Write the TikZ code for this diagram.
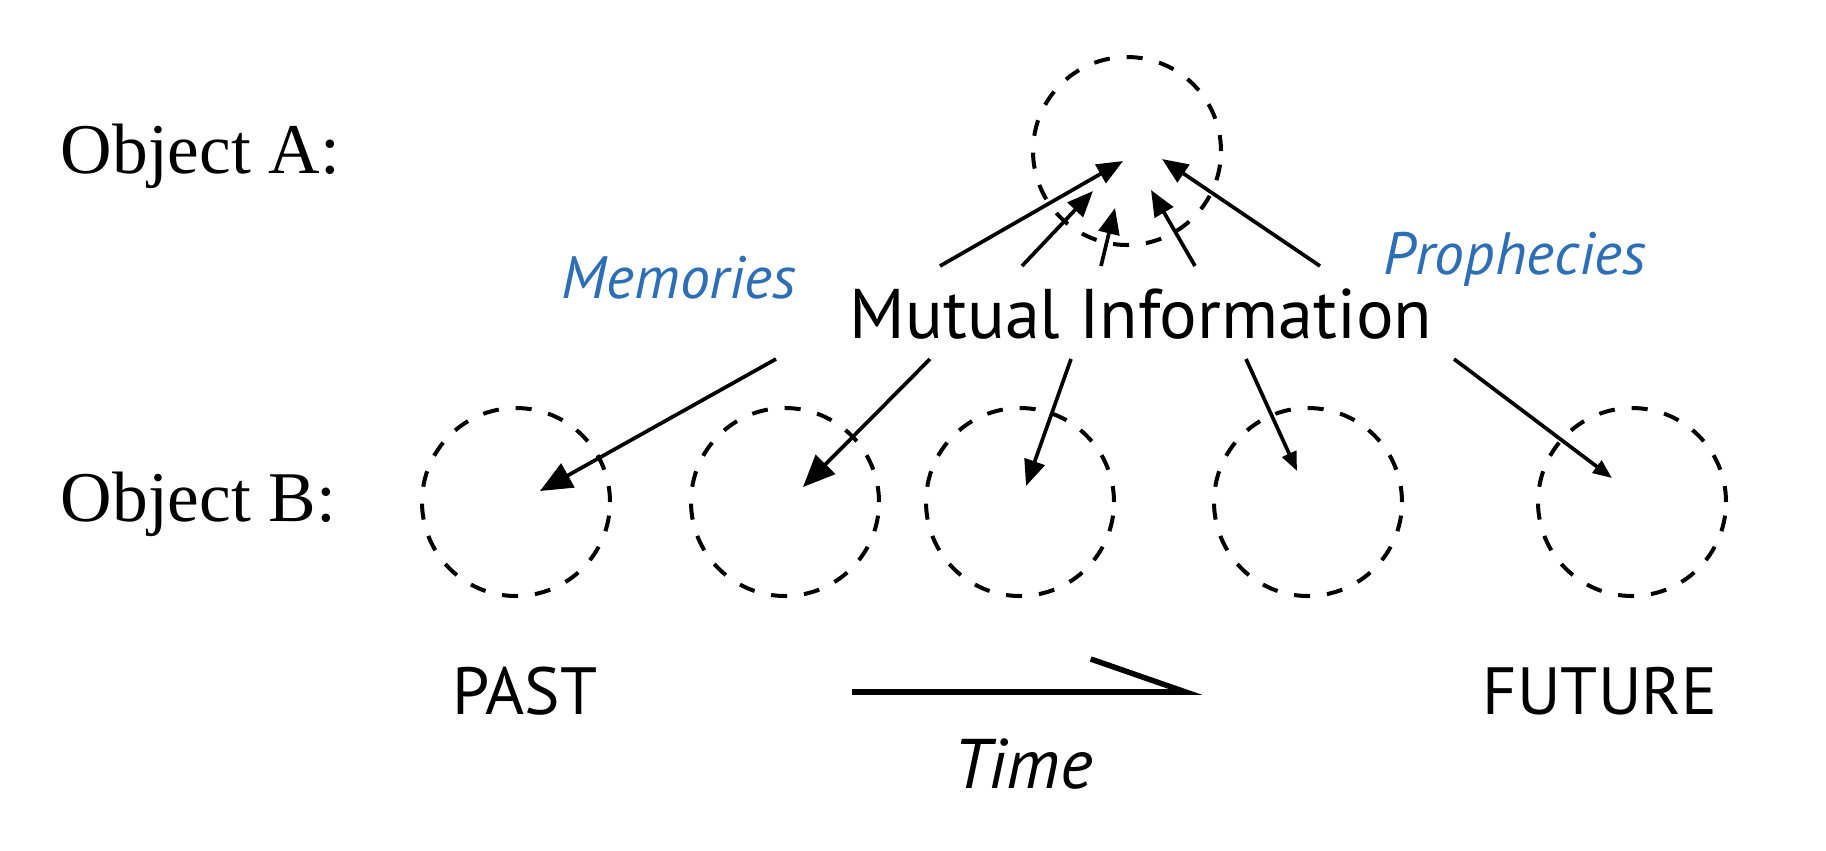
\documentclass[tikz,border=0pt]{standalone}
\usepackage{fontspec}
\setmainfont{Liberation Serif}
\setsansfont{PT Sans}
\usepackage{xcolor}
\definecolor{colorLabel}{RGB}{46,110,180}
\usepackage{tikz}
\usetikzlibrary{arrows.meta}
\tikzset{
  object/.style={circle, draw, dash pattern=on 1.6mm off 1.7mm, line width=0.4mm, minimum size=18.8mm, inner sep=0pt},
  objtext/.style={inner sep=0pt, font=\fontsize{20.3}{24}\selectfont},
  infotext/.style={inner sep=0pt, font=\sffamily\fontsize{20}{24}\selectfont},
  kindtext/.style={inner sep=0pt, text=colorLabel, font=\sffamily\itshape\fontsize{17}{20}\selectfont},
  epochtext/.style={inner sep=0pt, font=\sffamily\fontsize{19}{23}\selectfont},
  bighead/.style={-{Triangle[length=3.2mm, width=2.7mm]}},
  smallhead/.style={-{Triangle[length=1.9mm, width=1.5mm]}}
}

\begin{document}
\begin{tikzpicture}[x=0.1mm, y=-0.1mm, >={Triangle[length=2.6mm, width=2.1mm]}, line width=0.37mm]
\useasboundingbox (0,0) rectangle (1826,850);
\node[objtext, anchor=base west] (objA) at (59,173) {Object A:};
\node[objtext, anchor=base west] (objB) at (59,521) {Object B:};
\node[object] (a) at (1127,151) {};
\node[object] (b1) at (516,502) {};
\node[object] (b2) at (785,502) {};
\node[object] (b3) at (1020,502) {};
\node[object] (b4) at (1308,502) {};
\node[object] (b5) at (1632,502) {};
\node[infotext, anchor=base] (mi) at (1141,338) {Mutual Information};
\node[kindtext, anchor=base] (mem) at (679,298) {Memories};
\node[kindtext, anchor=base] (pro) at (1515,274) {Prophecies};
\node[epochtext, anchor=base] (past) at (525,714) {PAST};
\node[epochtext, anchor=base] (future) at (1600,714) {FUTURE};
\node[epochtext, anchor=base, font=\sffamily\itshape\fontsize{20}{24}\selectfont] (time) at (1023,788) {Time};
% arrows up to object A
\coordinate (up1) at (940,266);  \coordinate (a1) at (1123,161);
\coordinate (up2) at (1022,266); \coordinate (a2) at (1093,191);
\coordinate (up3) at (1101,266); \coordinate (a3) at (1115,208);
\coordinate (up4) at (1195,266); \coordinate (a4) at (1151,190);
\coordinate (up5) at (1320,266); \coordinate (a5) at (1162,159);
\draw[->] (up1) -- (a1);
\draw[->] (up2) -- (a2);
\draw[->] (up3) -- (a3);
\draw[->] (up4) -- (a4);
\draw[->] (up5) -- (a5);
% arrows down to object B
\coordinate (dn1) at (776,359);  \coordinate (t1) at (540,491);
\coordinate (dn2) at (930,359);  \coordinate (t2) at (803,487);
\coordinate (dn3) at (1071,359); \coordinate (t3) at (1026,486);
\coordinate (dn4) at (1246,359); \coordinate (t4) at (1297,471);
\coordinate (dn5) at (1454,359); \coordinate (t5) at (1612,478);
\draw[bighead] (dn1) -- (t1);
\draw[bighead] (dn2) -- (t2);
\draw[->] (dn3) -- (t3);
\draw[smallhead] (dn4) -- (t4);
\draw[smallhead] (dn5) -- (t5);
% time
\coordinate (time0) at (852,692); \coordinate (time1) at (1202,692);
\draw[line width=0.55mm, -{Straight Barb[left, length=9.5mm, width=6.6mm]}] (time0) -- (time1);
\end{tikzpicture}
\end{document}
